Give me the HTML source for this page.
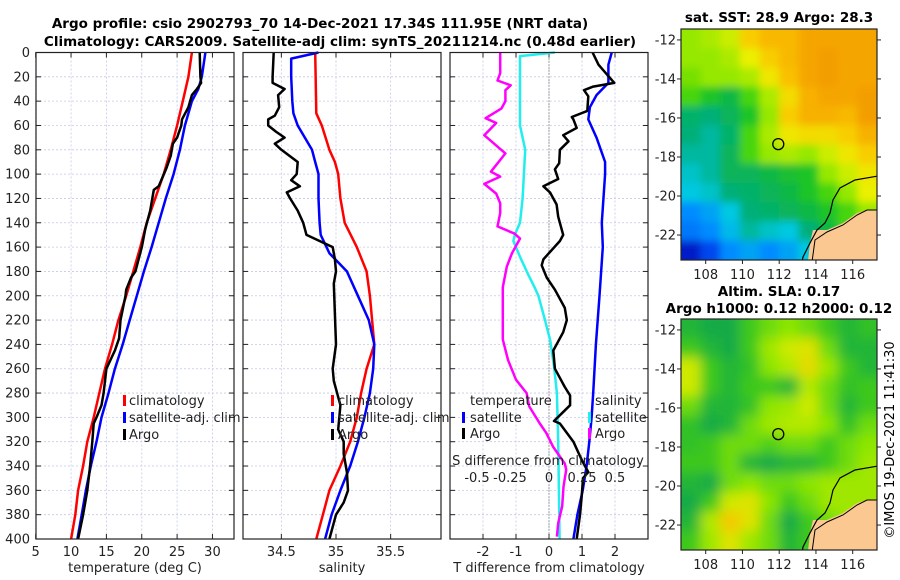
<!DOCTYPE html>
<html><head><meta charset="utf-8">
<style>
body{margin:0;background:#fff;}
svg{display:block;font-family:"DejaVu Sans","Liberation Sans",sans-serif;}
</style></head>
<body>
<svg id="chart" width="900" height="580" viewBox="0 0 900 580" xmlns="http://www.w3.org/2000/svg">
<rect width="900" height="580" fill="#fff"/>
<text x="320" y="28" font-size="13.5" font-weight="bold" text-anchor="middle">Argo profile: csio 2902793_70 14-Dec-2021 17.34S 111.95E (NRT data)</text>
<text x="340" y="46" font-size="13.5" font-weight="bold" text-anchor="middle">Climatology: CARS2009. Satellite-adj clim: synTS_20211214.nc (0.48d earlier)</text>
<text x="779" y="22" font-size="13.5" font-weight="bold" text-anchor="middle">sat. SST: 28.9 Argo: 28.3</text>
<text x="779" y="296" font-size="13.5" font-weight="bold" text-anchor="middle">Altim. SLA: 0.17</text>
<text x="779" y="313" font-size="13.5" font-weight="bold" text-anchor="middle">Argo h1000: 0.12 h2000: 0.12</text>
<text transform="translate(894,440) rotate(-90)" font-size="13" text-anchor="middle">©IMOS 19-Dec-2021 11:41:30</text>
<g id="g"></g>
</svg>
<script>
// ---------- data ----------
const depthTicks=[0,20,40,60,80,100,120,140,160,180,200,220,240,260,280,300,320,340,360,380,400];
const tempTicks=[5,10,15,20,25,30];
const salTicks=[34.5,35,35.5];
const tdiffTicks=[-2,-1,0,1,2];
const sdiffTicks=[-0.5,-0.25,0,0.25,0.5];

const tClimDepth=[0,20,40,60,80,100,120,140,160,180,200,220,240,260,280,300,320,340,360,380,400];
const tClimVal=[27.1,26.6,25.8,25.0,24.1,23.1,21.9,20.7,19.8,18.8,17.8,16.7,15.8,14.8,14.0,13.2,12.3,11.7,11.0,10.6,10.0];
const tSatDepth=[0,20,30,40,60,80,100,120,140,160,180,200,220,240,260,280,300,320,340,360,380,400];
const tSatVal=[29.0,28.5,28.0,27.1,26.1,25.4,24.5,23.4,22.4,21.4,20.3,19.3,18.3,17.3,16.2,15.3,14.3,13.6,12.8,12.1,11.5,10.9];
const tArgoDepth=[0,20,25,30,35,45,55,60,70,75,85,95,110,113,130,145,160,180,185,195,200,220,235,245,260,280,290,300,305,320,340,360,380,400];
const tArgoVal=[28.2,28.3,28.4,27.8,27.1,26.6,25.7,25.6,25.0,24.4,24.1,23.5,22.4,21.7,21.2,20.5,20.0,19.1,18.5,17.8,17.7,17.0,16.8,16.2,15.0,14.6,14.3,13.6,13.2,13.0,12.7,12.3,11.7,11.0];

const sClimDepth=[0,50,60,80,90,100,120,140,160,180,200,220,240,260,280,300,320,340,360,380,400];
const sClimVal=[34.81,34.82,34.87,34.94,34.99,35.02,35.04,35.08,35.19,35.28,35.31,35.33,35.35,35.28,35.23,35.19,35.13,35.04,34.94,34.88,34.82];
const sSatDepth=[0,5,20,40,50,60,80,90,100,120,140,150,165,180,200,220,240,260,280,300,320,340,360,380,400];
const sSatVal=[34.84,34.59,34.59,34.60,34.61,34.65,34.78,34.81,34.84,34.84,34.85,34.86,34.94,35.10,35.20,35.30,35.35,35.34,35.31,35.26,35.20,35.13,35.04,34.96,34.90];
const sArgoDepth=[0,20,25,30,35,45,52,55,60,65,70,75,80,90,100,105,110,115,120,130,140,150,155,160,170,180,190,240,260,270,290,310,320,330,345,360,370,380,400];
const sArgoVal=[34.43,34.42,34.42,34.53,34.47,34.48,34.44,34.38,34.38,34.45,34.53,34.44,34.50,34.65,34.64,34.59,34.67,34.55,34.58,34.65,34.70,34.73,34.85,34.97,34.99,35.00,34.98,35.00,34.97,34.98,35.04,35.02,35.07,35.07,35.10,35.11,35.07,35.00,34.94];

const dtSatDepth=[0,10,25,35,45,55,70,90,100,140,160,200,240,280,300,320,340,360,380,400];
const dtSatVal=[1.9,1.8,1.8,1.44,1.24,1.19,1.44,1.7,1.7,1.6,1.63,1.53,1.42,1.34,1.29,1.22,1.14,1.02,0.86,0.74];
const dtArgoDepth=[0,10,25,28,31,36,48,53,55,62,68,73,80,91,96,104,110,115,125,135,150,155,170,175,185,195,210,220,230,245,260,275,282,290,297,303,305,320,335,345,350,365,380,400];
const dtArgoVal=[1.32,1.5,1.98,1.34,1.06,1.19,1.16,0.69,0.74,0.84,0.43,0.59,0.33,0.31,0.18,0.28,-0.17,0.03,0.23,0.28,0.43,0.33,-0.17,-0.22,-0.07,0.18,0.48,0.54,0.43,0.13,0.18,0.48,0.64,0.64,0.38,0.15,0.33,0.74,0.99,1.19,1.03,0.99,0.94,0.84];
const dsSatDepth=[0,3,17,60,80,120,140,150,155,168,182,193,200,220,237,260,280,320,400];
const dsSatVal=[0.045,-0.22,-0.22,-0.22,-0.18,-0.2,-0.22,-0.26,-0.27,-0.22,-0.16,-0.11,-0.08,-0.03,0.01,0.04,0.06,0.07,0.08];
const dsArgoDepth=[0,17,23,27,31,40,46,54,58,68,83,98,102,108,116,124,132,143,149,153,165,176,193,236,253,269,280,291,305,313,324,338,343,357,373,387,398];
const dsArgoVal=[-0.37,-0.37,-0.39,-0.29,-0.33,-0.33,-0.36,-0.48,-0.40,-0.49,-0.33,-0.44,-0.37,-0.49,-0.40,-0.37,-0.37,-0.39,-0.26,-0.22,-0.28,-0.32,-0.35,-0.35,-0.31,-0.25,-0.17,-0.15,-0.07,-0.02,0.03,0.12,0.13,0.11,0.10,0.07,0.06];

const lonTicks=[108,110,112,114,116];
const latTicks=[-12,-14,-16,-18,-20,-22];
const sstGrid=[
[0.60,0.62,0.65,0.75,0.80,0.80,0.85,0.85,0.85,0.85],
[0.60,0.60,0.62,0.68,0.75,0.80,0.85,0.88,0.85,0.85],
[0.58,0.60,0.60,0.62,0.70,0.78,0.85,0.88,0.85,0.85],
[0.55,0.50,0.45,0.55,0.62,0.72,0.82,0.85,0.85,0.88],
[0.40,0.38,0.42,0.50,0.60,0.75,0.82,0.82,0.80,0.88],
[0.38,0.35,0.40,0.55,0.62,0.70,0.72,0.72,0.75,0.82],
[0.35,0.35,0.42,0.55,0.60,0.62,0.60,0.65,0.70,0.75],
[0.32,0.35,0.42,0.42,0.45,0.48,0.50,0.60,0.65,0.70],
[0.30,0.32,0.38,0.40,0.42,0.45,0.50,0.55,0.60,0.68],
[0.22,0.25,0.30,0.38,0.40,0.42,0.45,0.50,0.55,0.60],
[0.20,0.22,0.28,0.35,0.32,0.30,0.38,0.45,0.55,0.60],
[0.08,0.15,0.22,0.25,0.22,0.25,0.30,0.35,0.40,0.45]];
const slaGrid=[
[0.45,0.42,0.42,0.50,0.55,0.58,0.55,0.50,0.45,0.48],
[0.50,0.45,0.42,0.50,0.60,0.65,0.68,0.55,0.45,0.45],
[0.65,0.50,0.45,0.48,0.58,0.62,0.70,0.60,0.50,0.45],
[0.65,0.50,0.45,0.50,0.50,0.45,0.62,0.55,0.48,0.50],
[0.55,0.45,0.45,0.48,0.58,0.60,0.65,0.55,0.45,0.50],
[0.48,0.42,0.45,0.55,0.60,0.62,0.62,0.58,0.48,0.55],
[0.48,0.50,0.55,0.55,0.52,0.55,0.55,0.50,0.55,0.58],
[0.50,0.50,0.55,0.45,0.42,0.45,0.45,0.50,0.55,0.60],
[0.45,0.42,0.55,0.58,0.55,0.55,0.58,0.60,0.60,0.60],
[0.42,0.50,0.65,0.68,0.58,0.50,0.55,0.60,0.60,0.60],
[0.45,0.62,0.75,0.68,0.55,0.42,0.50,0.55,0.60,0.60],
[0.50,0.60,0.68,0.60,0.55,0.45,0.50,0.55,0.60,0.60]];

// ---------- helpers ----------
const NS="http://www.w3.org/2000/svg";
const G=document.getElementById('g');
function el(tag,attrs,parent){const e=document.createElementNS(NS,tag);for(const k in attrs)e.setAttribute(k,attrs[k]);(parent||G).appendChild(e);return e;}
const top0=52.5, bot=539;
const yD=d=>top0+d*(bot-top0)/400;
const xT=t=>35.7+(t-5)*7.07;
const xS=s=>336+(s-35)*109.3;
const xTd=t=>549+t*33;
const xSd=s=>549+s*132;
const panels=[{x0:36,x1:234},{x0:243,x1:441},{x0:450,x1:648}];

function grid(p,xs){
  xs.forEach(x=>{const l=el('line',{x1:x,x2:x,y1:top0,y2:bot,stroke:'#c4cae8','stroke-width':0.8,'stroke-dasharray':'2,2'});
  });
  depthTicks.forEach(d=>{const l=el('line',{x1:p.x0,x2:p.x1,y1:yD(d),y2:yD(d),stroke:'#c4cae8','stroke-width':0.8,'stroke-dasharray':'2,2'});
  
  [[p.x0,p.x0+5],[p.x1-5,p.x1]].forEach(a=>{const t=el('line',{x1:a[0],x2:a[1],y1:yD(d),y2:yD(d),stroke:'#222','stroke-width':1});
  });});
  xs.forEach(x=>{[[bot,bot-5],[top0,top0+5]].forEach(a=>{const t=el('line',{x1:x,x2:x,y1:a[0],y2:a[1],stroke:'#222','stroke-width':1});
  });});
}
function frame(p){const r=el('rect',{x:p.x0,y:top0,width:p.x1-p.x0,height:bot-top0,fill:'none',stroke:'#222','stroke-width':1.2});
 }
function line(ds,vs,fx,color,name,w){
  const pts=ds.map((d,i)=>fx(vs[i]).toFixed(1)+','+yD(d).toFixed(1)).join(' ');
  const l=el('polyline',{points:pts,fill:'none',stroke:color,'stroke-width':w||2.5,'stroke-linejoin':'round'});
  
}
function txt(x,y,s,attrs,name){const t=el('text',Object.assign({x:x,y:y,'font-size':13,fill:'#222'},attrs||{}));t.textContent=s;
 return t;}

// ---------- panel 1: temperature ----------
grid(panels[0],tempTicks.map(xT));
line(tClimDepth,tClimVal,xT,'#f00','temp-climatology-line');
line(tSatDepth,tSatVal,xT,'#00f','temp-satellite-line');
line(tArgoDepth,tArgoVal,xT,'#000','temp-argo-line');
frame(panels[0]);
depthTicks.forEach(d=>txt(30,yD(d)+4.5,String(d),{'text-anchor':'end'},'depth-tick-label'));
tempTicks.forEach(t=>txt(xT(t),556,String(t),{'text-anchor':'middle'},'temp-tick-label'));
txt(135,572,'temperature (deg C)',{'text-anchor':'middle'},'temp-axis-title');

// ---------- panel 2: salinity ----------
grid(panels[1],salTicks.map(xS));
line(sClimDepth,sClimVal,xS,'#f00','sal-climatology-line');
line(sSatDepth,sSatVal,xS,'#00f','sal-satellite-line');
line(sArgoDepth,sArgoVal,xS,'#000','sal-argo-line');
frame(panels[1]);
salTicks.forEach(s=>txt(xS(s),556,String(s),{'text-anchor':'middle'},'sal-tick-label'));
txt(342,572,'salinity',{'text-anchor':'middle'},'sal-axis-title');

// ---------- panel 3: differences ----------
grid(panels[2],tdiffTicks.map(xTd));
const zl=el('line',{x1:549,x2:549,y1:top0,y2:bot,stroke:'#555','stroke-width':1,'stroke-dasharray':'1,2'});

line(dsSatDepth,dsSatVal,xSd,'#22eeee','sdiff-satellite-line');
line(dsArgoDepth,dsArgoVal,xSd,'#f0f','sdiff-argo-line');
line(dtSatDepth,dtSatVal,xTd,'#00f','tdiff-satellite-line');
line(dtArgoDepth,dtArgoVal,xTd,'#000','tdiff-argo-line');
frame(panels[2]);
tdiffTicks.forEach(t=>txt(xTd(t),556,String(t),{'text-anchor':'middle'},'tdiff-tick-label'));
txt(549,572,'T difference from climatology',{'text-anchor':'middle'},'tdiff-axis-title');
sdiffTicks.forEach(s=>txt(xSd(s)-(s<0?6:0),482,String(s),{'text-anchor':'middle'},'sdiff-tick-label'));
txt(548,465,'S difference from climatology',{'text-anchor':'middle'},'sdiff-axis-title');

// ---------- legends ----------
function legItem(bx,tx,y,color,label,name){
  const r=el('rect',{x:bx,y:y-10,width:3,height:11,fill:color});
  
  txt(tx,y,label,{},name);
}
[[123,129],[331,338]].forEach(p=>{
  legItem(p[0],p[1],405,'#f00','climatology','legend-climatology');
  legItem(p[0],p[1],422,'#00f','satellite-adj. clim','legend-satellite');
  legItem(p[0],p[1],439,'#000','Argo','legend-argo');
});
txt(470,405,'temperature',{},'legend-temperature-heading');
legItem(462,470,422,'#00f','satellite','legend-t-satellite');
legItem(462,470,438,'#000','Argo','legend-t-argo');
txt(595,405,'salinity',{},'legend-salinity-heading');
legItem(588,595,422,'#22eeee','satellite','legend-s-satellite');
legItem(588,595,438,'#f0f','Argo','legend-s-argo');

// ---------- maps ----------
const mx0=681,mx1=877;
const xLon=l=>705.7+(l-108)*18.375;
function interp(stops,v){
  for(let i=1;i<stops.length;i++){if(v<=stops[i][0]){const a=stops[i-1],b=stops[i],f=Math.max(0,(v-a[0])/(b[0]-a[0]));
    return 'rgb('+a[1].map((c,k)=>Math.round(c+(b[1][k]-c)*f)).join(',')+')';}}
  const l=stops[stops.length-1][1];return 'rgb('+l.join(',')+')';
}
const sstStops=[[0,[0,0,140]],[0.12,[0,40,230]],[0.22,[0,140,255]],[0.3,[0,200,225]],[0.38,[0,175,120]],[0.46,[20,185,60]],[0.53,[40,205,20]],[0.6,[150,232,0]],[0.68,[235,240,0]],[0.76,[250,200,0]],[0.85,[245,165,0]],[1,[235,130,0]]];
const slaStops=[[0,[0,150,90]],[0.42,[20,170,70]],[0.5,[60,200,30]],[0.58,[140,230,0]],[0.66,[215,235,0]],[0.75,[245,200,0]],[1,[240,160,0]]];
function drawMap(my0,my1,gridv,name,blur,stops){
  const latY=l=>my0+(-11.44-l)*(my1-my0)/(23.28-11.44);
  const cid='clip'+name;
  const cp=el('clipPath',{id:cid});el('rect',{x:mx0,y:my0,width:mx1-mx0,height:my1-my0},cp);
  const g=el('g',{'clip-path':'url(#'+cid+')'});
  
  const f=el('filter',{id:'blur'+name,x:'-10%',y:'-10%',width:'120%',height:'120%'});el('feGaussianBlur',{stdDeviation:blur},f);
  const inner=el('g',{filter:'url(#blur'+name+')'},g);
  const rows=gridv.length,cols=gridv[0].length;
  const cw=(mx1-mx0)/cols,ch=(my1-my0)/rows;
  gridv.forEach((row,r)=>row.forEach((v,c)=>{
    const ex0=c===0?12:0, ex1=c===cols-1?12:0, ey0=r===0?12:0, ey1=r===rows-1?12:0;
    const cell=el('rect',{x:mx0+c*cw-ex0,y:my0+r*ch-ey0,width:cw+0.6+ex0+ex1,height:ch+0.6+ey0+ey1,fill:interp(stops,v)},inner);
    
  }));
  const o=my0-29;
  const land=el('polygon',{points:[[813,230],[827,230],[843,223],[857,213],[867,210],[878,210],[878,261],[808,261],[810,243]].map(p=>p[0]+','+(p[1]+o)).join(' '),fill:'#fac890'},g);
  
  const coast=el('polyline',{points:[[878,176],[855,180],[840,188],[833,200],[830,213],[825,223],[817,230],[810,243],[803,257],[802,262]].map(p=>p[0]+','+(p[1]+o)).join(' '),fill:'none',stroke:'#000','stroke-width':1.2},g);
  
  const coast2=el('polyline',{points:[[812,262],[815,240],[827,232],[843,225],[857,215],[867,210],[878,210]].map(p=>p[0]+','+(p[1]+o)).join(' '),fill:'none',stroke:'#000','stroke-width':1},g);
  
  const c=el('circle',{cx:xLon(111.95),cy:latY(-17.34),r:5.5,fill:'none',stroke:'#000','stroke-width':1.3});
  
  const fr=el('rect',{x:mx0,y:my0,width:mx1-mx0,height:my1-my0,fill:'none',stroke:'#222','stroke-width':1.2});
  
  latTicks.forEach(l=>{const y=latY(l);
    txt(676,y+4.5,String(l),{'text-anchor':'end'},'lat-tick-label');
    const t=el('line',{x1:mx1,x2:mx1+4,y1:y,y2:y,stroke:'#222'});
    const t2=el('line',{x1:mx0,x2:mx0-4,y1:y,y2:y,stroke:'#222'});});
  lonTicks.forEach(l=>{const x=xLon(l);txt(x,my1+19,String(l),{'text-anchor':'middle'},'lon-tick-label');
    const t=el('line',{x1:x,x2:x,y1:my1,y2:my1+4,stroke:'#222'});});
}
drawMap(29,260,sstGrid,'sst-map',4,sstStops);
drawMap(319,550,slaGrid,'sla-map',6,slaStops);
</script>
</body></html>
